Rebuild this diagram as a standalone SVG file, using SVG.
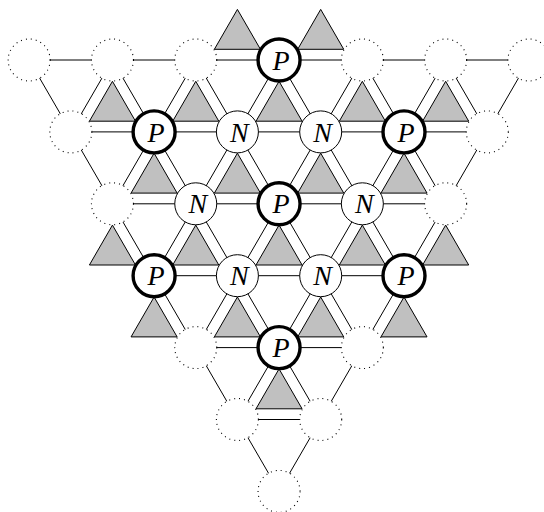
<svg xmlns="http://www.w3.org/2000/svg" xmlns:xlink="http://www.w3.org/1999/xlink" width="544" height="512" viewBox="0 0 544 512">
<style>
.e line{stroke:#000;stroke-width:1;fill:none}
.d{fill:#fff;stroke:#000;stroke-width:1.1;stroke-dasharray:1 4}
.n{fill:#fff;stroke:#000;stroke-width:1}
.p{fill:#fff;stroke:#000;stroke-width:3.4}
text{font-family:"Liberation Serif","Times New Roman",serif;font-style:italic;font-size:28px;text-anchor:middle;fill:#000}
</style>
<defs>
<polygon id="gt" points="0,21.3 -23.04,61.2 23.04,61.2" fill="#c0c0c0" stroke="#000" stroke-width="1"/>
</defs>
<rect width="544" height="512" fill="#fff"/>
<g id="connectors" class="e">
<line x1="29.15" y1="60" x2="112.45" y2="60"/>
<line x1="112.45" y1="60" x2="195.75" y2="60"/>
<line x1="195.75" y1="60" x2="279.05" y2="60"/>
<line x1="279.05" y1="60" x2="362.35" y2="60"/>
<line x1="362.35" y1="60" x2="445.65" y2="60"/>
<line x1="445.65" y1="60" x2="528.95" y2="60"/>
<line x1="70.8" y1="131.9" x2="154.1" y2="131.9"/>
<line x1="154.1" y1="131.9" x2="237.4" y2="131.9"/>
<line x1="237.4" y1="131.9" x2="320.7" y2="131.9"/>
<line x1="320.7" y1="131.9" x2="404" y2="131.9"/>
<line x1="404" y1="131.9" x2="487.3" y2="131.9"/>
<line x1="112.45" y1="203.8" x2="195.75" y2="203.8"/>
<line x1="195.75" y1="203.8" x2="279.05" y2="203.8"/>
<line x1="279.05" y1="203.8" x2="362.35" y2="203.8"/>
<line x1="362.35" y1="203.8" x2="445.65" y2="203.8"/>
<line x1="154.1" y1="275.7" x2="237.4" y2="275.7"/>
<line x1="237.4" y1="275.7" x2="320.7" y2="275.7"/>
<line x1="320.7" y1="275.7" x2="404" y2="275.7"/>
<line x1="195.75" y1="347.6" x2="279.05" y2="347.6"/>
<line x1="279.05" y1="347.6" x2="362.35" y2="347.6"/>
<line x1="237.4" y1="419.5" x2="320.7" y2="419.5"/>
<line x1="29.15" y1="60" x2="70.8" y2="131.9"/>
<line x1="112.45" y1="60" x2="70.8" y2="131.9"/>
<line x1="112.45" y1="60" x2="154.1" y2="131.9"/>
<line x1="195.75" y1="60" x2="154.1" y2="131.9"/>
<line x1="195.75" y1="60" x2="237.4" y2="131.9"/>
<line x1="279.05" y1="60" x2="237.4" y2="131.9"/>
<line x1="279.05" y1="60" x2="320.7" y2="131.9"/>
<line x1="362.35" y1="60" x2="320.7" y2="131.9"/>
<line x1="362.35" y1="60" x2="404" y2="131.9"/>
<line x1="445.65" y1="60" x2="404" y2="131.9"/>
<line x1="445.65" y1="60" x2="487.3" y2="131.9"/>
<line x1="528.95" y1="60" x2="487.3" y2="131.9"/>
<line x1="70.8" y1="131.9" x2="112.45" y2="203.8"/>
<line x1="154.1" y1="131.9" x2="112.45" y2="203.8"/>
<line x1="154.1" y1="131.9" x2="195.75" y2="203.8"/>
<line x1="237.4" y1="131.9" x2="195.75" y2="203.8"/>
<line x1="237.4" y1="131.9" x2="279.05" y2="203.8"/>
<line x1="320.7" y1="131.9" x2="279.05" y2="203.8"/>
<line x1="320.7" y1="131.9" x2="362.35" y2="203.8"/>
<line x1="404" y1="131.9" x2="362.35" y2="203.8"/>
<line x1="404" y1="131.9" x2="445.65" y2="203.8"/>
<line x1="487.3" y1="131.9" x2="445.65" y2="203.8"/>
<line x1="112.45" y1="203.8" x2="154.1" y2="275.7"/>
<line x1="195.75" y1="203.8" x2="154.1" y2="275.7"/>
<line x1="195.75" y1="203.8" x2="237.4" y2="275.7"/>
<line x1="279.05" y1="203.8" x2="237.4" y2="275.7"/>
<line x1="279.05" y1="203.8" x2="320.7" y2="275.7"/>
<line x1="362.35" y1="203.8" x2="320.7" y2="275.7"/>
<line x1="362.35" y1="203.8" x2="404" y2="275.7"/>
<line x1="445.65" y1="203.8" x2="404" y2="275.7"/>
<line x1="154.1" y1="275.7" x2="195.75" y2="347.6"/>
<line x1="237.4" y1="275.7" x2="195.75" y2="347.6"/>
<line x1="237.4" y1="275.7" x2="279.05" y2="347.6"/>
<line x1="320.7" y1="275.7" x2="279.05" y2="347.6"/>
<line x1="320.7" y1="275.7" x2="362.35" y2="347.6"/>
<line x1="404" y1="275.7" x2="362.35" y2="347.6"/>
<line x1="195.75" y1="347.6" x2="237.4" y2="419.5"/>
<line x1="279.05" y1="347.6" x2="237.4" y2="419.5"/>
<line x1="279.05" y1="347.6" x2="320.7" y2="419.5"/>
<line x1="362.35" y1="347.6" x2="320.7" y2="419.5"/>
<line x1="237.4" y1="419.5" x2="279.05" y2="491.4"/>
<line x1="320.7" y1="419.5" x2="279.05" y2="491.4"/>
</g>
<g id="triangles">
<use href="#gt" xlink:href="#gt" x="237.4" y="-11.9"/>
<use href="#gt" xlink:href="#gt" x="320.7" y="-11.9"/>
<use href="#gt" xlink:href="#gt" x="112.45" y="60"/>
<use href="#gt" xlink:href="#gt" x="195.75" y="60"/>
<use href="#gt" xlink:href="#gt" x="279.05" y="60"/>
<use href="#gt" xlink:href="#gt" x="362.35" y="60"/>
<use href="#gt" xlink:href="#gt" x="445.65" y="60"/>
<use href="#gt" xlink:href="#gt" x="154.1" y="131.9"/>
<use href="#gt" xlink:href="#gt" x="237.4" y="131.9"/>
<use href="#gt" xlink:href="#gt" x="320.7" y="131.9"/>
<use href="#gt" xlink:href="#gt" x="404" y="131.9"/>
<use href="#gt" xlink:href="#gt" x="112.45" y="203.8"/>
<use href="#gt" xlink:href="#gt" x="195.75" y="203.8"/>
<use href="#gt" xlink:href="#gt" x="279.05" y="203.8"/>
<use href="#gt" xlink:href="#gt" x="362.35" y="203.8"/>
<use href="#gt" xlink:href="#gt" x="445.65" y="203.8"/>
<use href="#gt" xlink:href="#gt" x="154.1" y="275.7"/>
<use href="#gt" xlink:href="#gt" x="237.4" y="275.7"/>
<use href="#gt" xlink:href="#gt" x="320.7" y="275.7"/>
<use href="#gt" xlink:href="#gt" x="404" y="275.7"/>
<use href="#gt" xlink:href="#gt" x="279.05" y="347.6"/>
</g>
<g id="nodes">
<g id="n0-0"><circle class="d" cx="29.15" cy="60" r="21"/></g>
<g id="n0-1"><circle class="d" cx="112.45" cy="60" r="21"/></g>
<g id="n0-2"><circle class="d" cx="195.75" cy="60" r="21"/></g>
<g id="n0-3"><circle class="p" cx="279.05" cy="60" r="21"/><text x="281.05" y="69.6">P</text></g>
<g id="n0-4"><circle class="d" cx="362.35" cy="60" r="21"/></g>
<g id="n0-5"><circle class="d" cx="445.65" cy="60" r="21"/></g>
<g id="n0-6"><circle class="d" cx="528.95" cy="60" r="21"/></g>
<g id="n1-0"><circle class="d" cx="70.8" cy="131.9" r="21"/></g>
<g id="n1-1"><circle class="p" cx="154.1" cy="131.9" r="21"/><text x="156.1" y="141.5">P</text></g>
<g id="n1-2"><circle class="n" cx="237.4" cy="131.9" r="21"/><text x="239.4" y="141.5">N</text></g>
<g id="n1-3"><circle class="n" cx="320.7" cy="131.9" r="21"/><text x="322.7" y="141.5">N</text></g>
<g id="n1-4"><circle class="p" cx="404" cy="131.9" r="21"/><text x="406" y="141.5">P</text></g>
<g id="n1-5"><circle class="d" cx="487.3" cy="131.9" r="21"/></g>
<g id="n2-0"><circle class="d" cx="112.45" cy="203.8" r="21"/></g>
<g id="n2-1"><circle class="n" cx="195.75" cy="203.8" r="21"/><text x="197.75" y="213.4">N</text></g>
<g id="n2-2"><circle class="p" cx="279.05" cy="203.8" r="21"/><text x="281.05" y="213.4">P</text></g>
<g id="n2-3"><circle class="n" cx="362.35" cy="203.8" r="21"/><text x="364.35" y="213.4">N</text></g>
<g id="n2-4"><circle class="d" cx="445.65" cy="203.8" r="21"/></g>
<g id="n3-0"><circle class="p" cx="154.1" cy="275.7" r="21"/><text x="156.1" y="285.3">P</text></g>
<g id="n3-1"><circle class="n" cx="237.4" cy="275.7" r="21"/><text x="239.4" y="285.3">N</text></g>
<g id="n3-2"><circle class="n" cx="320.7" cy="275.7" r="21"/><text x="322.7" y="285.3">N</text></g>
<g id="n3-3"><circle class="p" cx="404" cy="275.7" r="21"/><text x="406" y="285.3">P</text></g>
<g id="n4-0"><circle class="d" cx="195.75" cy="347.6" r="21"/></g>
<g id="n4-1"><circle class="p" cx="279.05" cy="347.6" r="21"/><text x="281.05" y="357.2">P</text></g>
<g id="n4-2"><circle class="d" cx="362.35" cy="347.6" r="21"/></g>
<g id="n5-0"><circle class="d" cx="237.4" cy="419.5" r="21"/></g>
<g id="n5-1"><circle class="d" cx="320.7" cy="419.5" r="21"/></g>
<g id="n6-0"><circle class="d" cx="279.05" cy="491.4" r="21"/></g>
</g>
</svg>
